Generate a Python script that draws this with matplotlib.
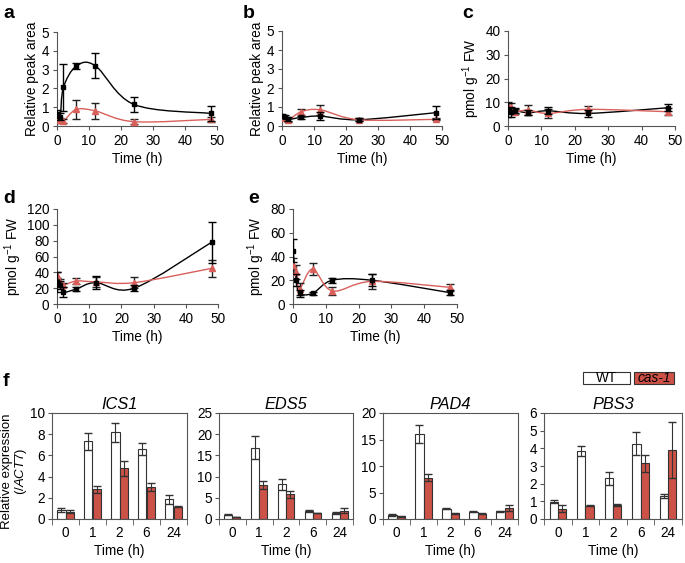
import numpy as np
import matplotlib
matplotlib.use('Agg')
import matplotlib.pyplot as plt
from matplotlib.path import Path
from matplotlib.patches import PathPatch, Rectangle

plt.rcParams['font.family'] = ['Liberation Sans', 'DejaVu Sans']
plt.rcParams['mathtext.fontset'] = 'custom'
plt.rcParams['mathtext.rm'] = 'Liberation Sans'
plt.rcParams['mathtext.it'] = 'Liberation Sans:italic'
plt.rcParams['font.size'] = 9.8

# time course data (a-e)
times = [0, 1, 2, 6, 12, 24, 48]

a_wt = [0.65, 0.5, 2.05, 3.18, 3.2, 1.15, 0.67]
a_wt_err = [0.2, 0.2, 1.25, 0.15, 0.67, 0.4, 0.4]
a_cas = [0.4, 0.3, 0.25, 0.88, 0.8, 0.23, 0.35]
a_cas_err = [0.15, 0.15, 0.1, 0.5, 0.45, 0.15, 0.15]

b_wt = [0.55, 0.5, 0.35, 0.45, 0.52, 0.33, 0.7]
b_wt_err = [0.1, 0.1, 0.1, 0.1, 0.2, 0.08, 0.35]
b_cas = [0.45, 0.4, 0.3, 0.75, 0.85, 0.33, 0.35]
b_cas_err = [0.1, 0.1, 0.1, 0.15, 0.25, 0.08, 0.05]

c_wt = [6.7, 6.0, 6.5, 5.6, 6.4, 5.3, 7.7]
c_wt_err = [3, 2, 1, 1, 1.5, 1.5, 1.5]
c_cas = [8.4, 8.0, 6.0, 6.7, 5.3, 7.0, 6.0]
c_cas_err = [1.5, 1.5, 1, 2, 2, 1.5, 1.5]

d_wt = [28, 24, 15, 19, 27, 20, 78]
d_wt_err = [13, 5, 6, 2, 8, 4, 26]
d_cas = [37, 28, 24, 29, 28, 27, 45]
d_cas_err = [4, 3, 3, 4, 6, 7, 11]

e_wt = [45, 20, 9, 9, 20, 20, 9.5]
e_wt_err = [10, 5, 3, 1.5, 2, 5, 2]
e_cas = [33, 27, 13, 29.5, 11, 19, 14]
e_cas_err = [6, 6, 5, 5, 3, 6, 3]

# expression data (f)
hours = ['0', '1', '2', '6', '24']
genes = ['ICS1', 'EDS5', 'PAD4', 'PBS3']
wt_expr = [[0.85, 7.35, 8.2, 6.6, 1.85],
           [1.0, 16.8, 8.2, 1.9, 1.4],
           [0.7, 16.1, 1.9, 1.4, 1.5],
           [0.98, 3.85, 2.3, 4.25, 1.3]]
wt_expr_err = [[0.2, 0.8, 0.9, 0.6, 0.45],
               [0.1, 2.7, 1.3, 0.2, 0.2],
               [0.2, 1.7, 0.1, 0.1, 0.1],
               [0.08, 0.3, 0.35, 0.65, 0.1]]
cas_expr = [[0.7, 2.8, 4.8, 3.0, 1.15],
            [0.5, 8.0, 5.8, 1.4, 2.0],
            [0.5, 7.8, 1.1, 1.0, 2.1],
            [0.57, 0.75, 0.8, 3.15, 3.9]]
cas_expr_err = [[0.15, 0.35, 0.7, 0.4, 0.05],
                [0.05, 1.0, 0.8, 0.1, 0.7],
                [0.05, 0.6, 0.1, 0.1, 0.6],
                [0.2, 0.02, 0.05, 0.5, 1.6]]
expr_ymax = [10, 25, 20, 6]
expr_ystep = [2, 5, 5, 1]

RED_LINE = '#D9605A'
RED_BAR = '#CC5247'
W, H = 685, 563


def px_axes(x0, y0, x1, y1):
    return fig.add_axes([x0 / W, 1 - y1 / H, (x1 - x0) / W, (y1 - y0) / H])


def smooth(ax, x, y, color):
    # Excel-style smoothed line through the points (Catmull-Rom as Bezier)
    pts = np.column_stack([x, y]).astype(float)
    n = len(pts)
    verts = [pts[0]]
    codes = [Path.MOVETO]
    for i in range(n - 1):
        p0 = pts[max(i - 1, 0)]
        p1 = pts[i]
        p2 = pts[i + 1]
        p3 = pts[min(i + 2, n - 1)]
        verts += [p1 + (p2 - p0) / 6, p2 - (p3 - p1) / 6, p2]
        codes += [Path.CURVE4] * 3
    ax.add_patch(PathPatch(Path(verts, codes), fill=False, ec=color, lw=1.0, zorder=2))


def time_panel(ax, wt, wt_err, cas, cas_err, ymax, ystep, ylabel):
    smooth(ax, times, wt, 'black')
    smooth(ax, times, cas, RED_LINE)
    ax.errorbar(times, cas, yerr=cas_err, fmt='^', color=RED_LINE, ms=4,
                ecolor='#222222', elinewidth=1, capsize=3, zorder=3)
    ax.errorbar(times, wt, yerr=wt_err, fmt='s', color='black', ms=3.5,
                ecolor='black', elinewidth=1, capsize=3, zorder=4)
    ax.set_xlim(0, 50)
    ax.set_ylim(0, ymax)
    ax.set_xticks(np.arange(0, 51, 10))
    ax.set_yticks(np.arange(0, ymax + 0.01, ystep))
    ax.spines['top'].set_visible(False)
    ax.spines['right'].set_visible(False)
    for s in ['left', 'bottom']:
        ax.spines[s].set_color('#555555')
    ax.tick_params(direction='out', length=3, color='#555555', pad=2.5)
    ax.set_xlabel('Time (h)', labelpad=3)
    ax.set_ylabel(ylabel, labelpad=2)


fig = plt.figure(figsize=(W / 100, H / 100), dpi=100)

pmol = 'pmol g$^{-1}$ FW'
ax_a = px_axes(57, 32, 217, 126)
time_panel(ax_a, a_wt, a_wt_err, a_cas, a_cas_err, 5, 1, 'Relative peak area')
ax_b = px_axes(282, 31, 442, 126)
time_panel(ax_b, b_wt, b_wt_err, b_cas, b_cas_err, 5, 1, 'Relative peak area')
ax_c = px_axes(508, 31, 675, 126)
time_panel(ax_c, c_wt, c_wt_err, c_cas, c_cas_err, 40, 10, pmol)
ax_d = px_axes(57, 209, 218, 304)
time_panel(ax_d, d_wt, d_wt_err, d_cas, d_cas_err, 120, 20, pmol)
ax_e = px_axes(293, 209, 457, 304)
time_panel(ax_e, e_wt, e_wt_err, e_cas, e_cas_err, 80, 20, pmol)

# bar panels (f)
bar_boxes = [(52, 187), (219, 353), (383, 518), (544, 682)]
bw = 0.3
idx = np.arange(len(hours))
for g, gene in enumerate(genes):
    x0, x1 = bar_boxes[g]
    ax = px_axes(x0, 413, x1, 519)
    ax.bar(idx - bw / 2, wt_expr[g], bw, color='white', edgecolor='#333333', lw=0.8,
           yerr=wt_expr_err[g], error_kw=dict(ecolor='#333333', elinewidth=0.8, capsize=3))
    ax.bar(idx + bw / 2, cas_expr[g], bw, color=RED_BAR, edgecolor='#333333', lw=0.8,
           yerr=cas_expr_err[g], error_kw=dict(ecolor='#333333', elinewidth=0.8, capsize=3))
    ax.set_xlim(-0.5, len(hours) - 0.5)
    ax.set_ylim(0, expr_ymax[g])
    ax.set_yticks(np.arange(0, expr_ymax[g] + 0.01, expr_ystep[g]))
    ax.set_xticks(idx)
    ax.set_xticklabels(hours)
    ax.set_xticks(np.arange(-0.5, len(hours)), minor=True)
    ax.tick_params(axis='x', which='major', length=0, pad=5)
    ax.tick_params(axis='x', which='minor', direction='out', length=4, color='#555555')
    ax.tick_params(axis='y', direction='out', length=3, color='#555555', pad=2)
    for s in ax.spines.values():
        s.set_color('#555555')
    ax.set_title(gene, style='italic', pad=3)
    ax.set_xlabel('Time (h)', labelpad=3)
    if g == 0:
        ax.set_ylabel('Relative expression\n(/$\\it{ACT7}$)', linespacing=1.0, fontsize=9.5)
        ax.yaxis.set_label_coords(-0.17, 0.45)

# legend boxes
fig.patches.append(Rectangle((583 / W, 1 - 384 / H), 47 / W, 12 / H, transform=fig.transFigure,
                             fc='white', ec='#333333', lw=0.8))
fig.text(606.5 / W, 1 - 378.5 / H, 'WT', ha='center', va='center')
fig.patches.append(Rectangle((634 / W, 1 - 384 / H), 40 / W, 12 / H, transform=fig.transFigure,
                             fc=RED_BAR, ec='#333333', lw=0.8))
fig.text(654 / W, 1 - 378.5 / H, 'cas-1', ha='center', va='center', style='italic')

# panel letters
for lab, (x, y) in {'a': (3, 14), 'b': (243, 14), 'c': (462, 14),
                    'd': (3, 198), 'e': (248, 198), 'f': (3, 382)}.items():
    fig.text(x / W, 1 - y / H, lab, fontsize=14, fontweight='bold', va='center')

plt.savefig('out.png', dpi=100)
